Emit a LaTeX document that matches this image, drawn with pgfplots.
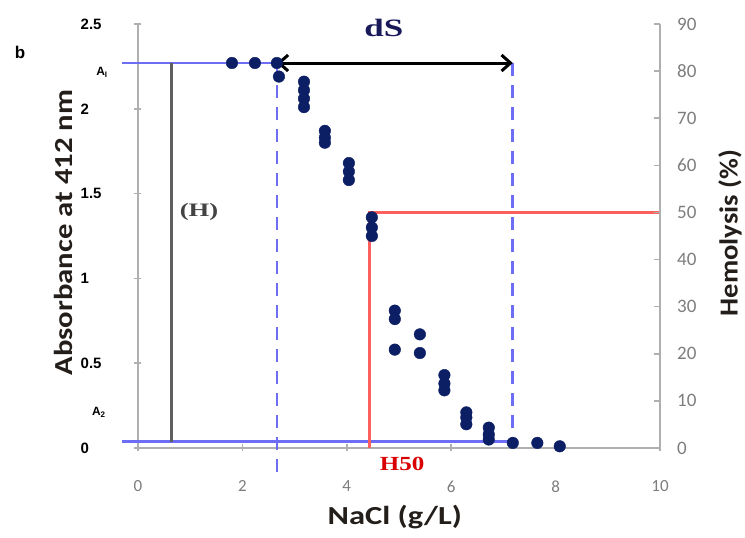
\documentclass[border=0pt]{standalone}
\usepackage{fontspec}
\usepackage{graphicx}
\usepackage{pgfplots}
\pgfplotsset{compat=1.18}
\usetikzlibrary{arrows.meta}
\setmainfont{Carlito}
\newfontfamily\arialf{Liberation Sans}
\newfontfamily\serff{Liberation Serif}
\definecolor{dotblue}{RGB}{12,30,100}
\definecolor{lineblue}{RGB}{110,110,245}
\definecolor{redl}{RGB}{255,95,95}
\definecolor{axgrey}{RGB}{175,175,175}
\definecolor{tickgrey}{RGB}{125,125,125}
\definecolor{hgrey}{RGB}{95,95,95}
\definecolor{navyt}{RGB}{25,25,90}
\definecolor{labdark}{RGB}{35,30,25}

\begin{document}
\begin{tikzpicture}
\useasboundingbox (-138pt,-90pt) rectangle (607pt,448pt);
% left axis: absorbance
\begin{axis}[
    scale only axis, width=522pt, height=424pt,
    xmin=0, xmax=10, ymin=0, ymax=2.5,
    axis x line*=bottom, axis y line*=left,
    axis line style={axgrey, line width=2pt, -},
    xtick={0,2,4,6,8,10}, ytick={0,0.5,1,1.5,2,2.5},
    tick style={axgrey, line width=1.5pt},
    major tick length=7pt, tick align=center,
    /pgf/number format/assume math mode=true,
    xticklabel style={font=\fontsize{17}{17}\selectfont, text=tickgrey, anchor=north, inner sep=0pt, yshift=-29pt},
    yticklabel style={font=\fontsize{15}{15}\selectfont\arialf\bfseries, anchor=west, inner sep=0pt, xshift=-54pt},
    clip=false]
    % reference lines
    \addplot[lineblue, line width=2.6pt] coordinates {(-0.3,2.27) (2.66,2.27)};
    \addplot[lineblue, line width=2.6pt] coordinates {(-0.3,0.038) (7.18,0.038)};
    \addplot[lineblue, line width=2.6pt, dash pattern=on 13pt off 9pt] coordinates {(2.66,2.27) (2.66,-0.17)};
    \addplot[lineblue, line width=2.6pt, dash pattern=on 13pt off 9pt] coordinates {(7.18,2.27) (7.18,0.038)};
    \addplot[hgrey, line width=3pt] coordinates {(0.65,2.27) (0.65,0.038)};
    \addplot[redl, line width=3pt] coordinates {(4.43,0) (4.43,1.386) (10,1.386)};
    % measurements
    \addplot[only marks, mark=*, mark size=5.8pt, dotblue] coordinates {
        (1.80,2.27) (2.24,2.27) (2.66,2.27) (2.70,2.19)
        (3.18,2.16) (3.18,2.11) (3.18,2.06) (3.18,2.01)
        (3.58,1.87) (3.58,1.83) (3.58,1.80)
        (4.04,1.68) (4.04,1.63) (4.04,1.58)
        (4.48,1.36) (4.48,1.30) (4.48,1.25)
        (4.92,0.81) (4.92,0.76) (4.92,0.58)
        (5.40,0.67) (5.40,0.56)
        (5.87,0.43) (5.87,0.38) (5.87,0.34)
        (6.29,0.21) (6.29,0.18) (6.29,0.14)
        (6.72,0.12) (6.72,0.08) (6.72,0.05)
        (7.18,0.03) (7.65,0.03) (8.08,0.01)
    };
    \addplot[black, line width=3pt, {Straight Barb[length=9pt,width=16pt]}-{Straight Barb[length=9pt,width=16pt]}] coordinates {(2.66,2.27) (7.18,2.27)};
    % annotations
    \node[text=navyt, font=\fontsize{25}{25}\selectfont\serff\bfseries] at (axis cs:4.71,2.476) {\scalebox{1.4}[1]{dS}};
    \node[text=hgrey!70!black, font=\fontsize{19}{19}\selectfont\serff\bfseries] at (axis cs:1.17,1.39) {\scalebox{1.4}[1]{(H)}};
    \node[text=red!85!black, font=\fontsize{20}{20}\selectfont\serff\bfseries] at (axis cs:5.06,-0.094) {\scalebox{1.25}[1]{H50}};
    \node[font=\fontsize{17}{17}\selectfont\arialf\bfseries] at (axis cs:-2.26,2.33) {b};
    \node[font=\fontsize{12}{12}\selectfont\arialf\bfseries] at (axis cs:-0.69,2.217) {A\textsubscript{I}};
    \node[font=\fontsize{12}{12}\selectfont\arialf\bfseries] at (axis cs:-0.75,0.212) {A\textsubscript{2}};
    \node[text=labdark, font=\fontsize{26}{26}\selectfont\bfseries] at (axis cs:4.92,-0.407) {\scalebox{1.25}[1]{NaCl (g/L)}};
    \node[text=labdark, rotate=90, font=\fontsize{26}{26}\selectfont\bfseries] at (axis cs:-1.42,1.27) {\scalebox{1.18}[1]{Absorbance at 412 nm}};
    \node[text=labdark, rotate=90, font=\fontsize{26}{26}\selectfont\bfseries] at (axis cs:11.34,1.268) {\scalebox{1.1}[1]{Hemolysis (\%)}};
\end{axis}
% right axis: hemolysis
\begin{axis}[
    scale only axis, width=522pt, height=424pt,
    xmin=0, xmax=10, ymin=0, ymax=90,
    axis x line=none, axis y line*=right,
    axis line style={axgrey, line width=2pt, -},
    ytick={0,10,20,30,40,50,60,70,80,90},
    tick style={axgrey, line width=1.5pt},
    major tick length=6pt, tick align=inside,
    /pgf/number format/assume math mode=true,
    yticklabel style={font=\fontsize{19}{19}\selectfont, text=tickgrey, anchor=west, inner sep=0pt, xshift=17pt}]
\end{axis}
\end{tikzpicture}
\end{document}
